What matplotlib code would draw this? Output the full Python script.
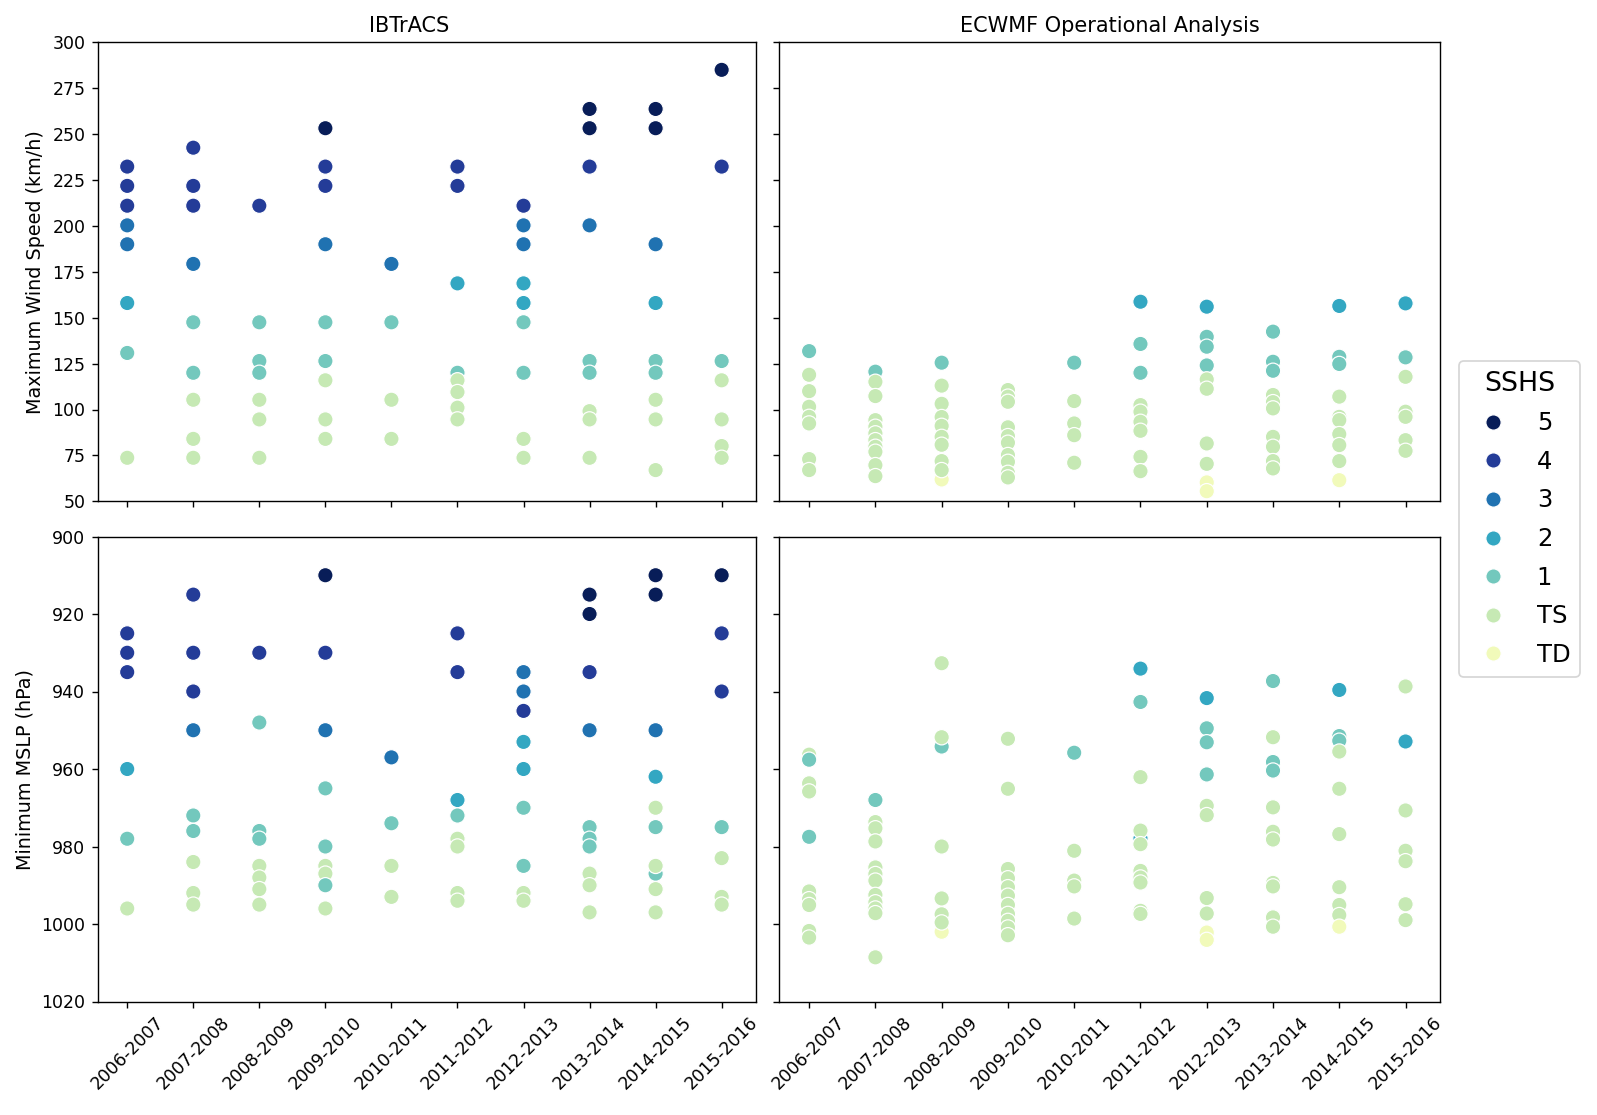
import numpy as np
import matplotlib
matplotlib.use('Agg')
import matplotlib.pyplot as plt
from matplotlib.lines import Line2D

# %% Data

seasons = ['2006-2007', '2007-2008', '2008-2009', '2009-2010', '2010-2011',
           '2011-2012', '2012-2013', '2013-2014', '2014-2015', '2015-2016']

sshs_cats = ['5', '4', '3', '2', '1', 'TS', 'TD']

# IBTrACS maximum wind speed (km/h) per season, with SSHS category
ib_wind = [
    [232.3, 221.8, 211.0, 200.3, 190.0, 158.0, 130.8, 73.7],
    [242.6, 221.8, 211.0, 179.3, 147.5, 120.0, 105.3, 84.0, 73.7],
    [211.0, 147.5, 126.4, 120.0, 105.3, 94.6, 73.7],
    [253.2, 232.3, 221.8, 190.0, 147.5, 126.4, 115.9, 94.6, 84.0],
    [179.3, 147.5, 105.3, 84.0],
    [232.3, 221.8, 168.7, 120.0, 115.9, 109.5, 101.0, 94.6],
    [211.0, 200.3, 190.0, 168.7, 158.0, 147.5, 120.0, 84.0, 73.7],
    [263.7, 253.2, 232.3, 200.3, 126.4, 120.0, 99.1, 94.6, 73.7],
    [263.7, 253.2, 190.0, 158.0, 126.4, 120.0, 105.3, 94.6, 67.0],
    [285.0, 232.3, 126.4, 115.9, 94.6, 80.1, 73.7],
]
ib_wind_cat = [
    ['4', '4', '4', '3', '3', '2', '1', 'TS'],
    ['4', '4', '4', '3', '1', '1', 'TS', 'TS', 'TS'],
    ['4', '1', '1', '1', 'TS', 'TS', 'TS'],
    ['5', '4', '4', '3', '1', '1', 'TS', 'TS', 'TS'],
    ['3', '1', 'TS', 'TS'],
    ['4', '4', '2', '1', 'TS', 'TS', 'TS', 'TS'],
    ['4', '3', '3', '2', '2', '1', '1', 'TS', 'TS'],
    ['5', '5', '4', '3', '1', '1', 'TS', 'TS', 'TS'],
    ['5', '5', '3', '2', '1', '1', 'TS', 'TS', 'TS'],
    ['5', '4', '1', 'TS', 'TS', 'TS', 'TS'],
]

# ECMWF operational analysis maximum wind speed (km/h)
ec_wind = [
    [131.8, 118.9, 110.0, 101.5, 96.0, 92.4, 73.0, 67.0],
    [120.6, 115.1, 107.3, 94.2, 90.6, 87.0, 83.3, 79.7, 77.0, 69.7, 63.7],
    [125.5, 61.9, 113.0, 103.1, 95.9, 91.1, 85.1, 80.8, 71.9, 67.0],
    [110.6, 107.0, 104.2, 90.3, 85.5, 81.9, 75.2, 71.5, 65.5, 63.0],
    [125.5, 104.6, 92.4, 86.0, 71.0],
    [158.7, 135.7, 120.0, 102.4, 98.8, 93.3, 88.4, 74.2, 66.4],
    [156.0, 139.6, 134.2, 124.0, 116.4, 111.3, 81.5, 70.4, 60.3, 55.5],
    [142.4, 126.0, 121.1, 107.9, 104.0, 100.6, 85.1, 79.7, 71.9, 67.9],
    [156.4, 128.7, 124.8, 107.0, 96.0, 94.2, 86.6, 80.6, 71.9, 61.5],
    [157.8, 128.4, 117.8, 98.8, 96.0, 83.3, 77.5],
]
ec_wind_cat = [
    ['1', 'TS', 'TS', 'TS', 'TS', 'TS', 'TS', 'TS'],
    ['1', 'TS', 'TS', 'TS', 'TS', 'TS', 'TS', 'TS', 'TS', 'TS', 'TS'],
    ['1', 'TD', 'TS', 'TS', 'TS', 'TS', 'TS', 'TS', 'TS', 'TS'],
    ['TS', 'TS', 'TS', 'TS', 'TS', 'TS', 'TS', 'TS', 'TS', 'TS'],
    ['1', 'TS', 'TS', 'TS', 'TS'],
    ['2', '1', '1', 'TS', 'TS', 'TS', 'TS', 'TS', 'TS'],
    ['2', '1', '1', '1', 'TS', 'TS', 'TS', 'TS', 'TD', 'TD'],
    ['1', '1', '1', 'TS', 'TS', 'TS', 'TS', 'TS', 'TS', 'TS'],
    ['2', '1', '1', 'TS', 'TS', 'TS', 'TS', 'TS', 'TS', 'TD'],
    ['2', '1', 'TS', 'TS', 'TS', 'TS', 'TS'],
]

# IBTrACS minimum MSLP (hPa)
ib_mslp = [
    [925, 930, 935, 960, 978, 996],
    [915, 930, 940, 950, 972, 976, 984, 992, 995],
    [930, 948, 976, 978, 985, 988, 991, 995],
    [910, 930, 950, 965, 980, 985, 987, 990, 996],
    [957, 974, 985, 993],
    [925, 935, 968, 972, 978, 980, 992, 994],
    [935, 940, 945, 953, 960, 970, 985, 992, 994],
    [915, 920, 935, 950, 975, 978, 980, 987, 990, 997],
    [910, 915, 950, 962, 975, 987, 970, 985, 991, 997],
    [910, 925, 940, 975, 983, 993, 995],
]
ib_mslp_cat = [
    ['4', '4', '4', '2', '1', 'TS'],
    ['4', '4', '4', '3', '1', '1', 'TS', 'TS', 'TS'],
    ['4', '1', '1', '1', 'TS', 'TS', 'TS', 'TS'],
    ['5', '4', '3', '1', '1', 'TS', 'TS', '1', 'TS'],
    ['3', '1', 'TS', 'TS'],
    ['4', '4', '2', '1', 'TS', 'TS', 'TS', 'TS'],
    ['3', '3', '4', '2', '2', '1', '1', 'TS', 'TS'],
    ['5', '5', '4', '3', '1', '1', '1', 'TS', 'TS', 'TS'],
    ['5', '5', '3', '2', '1', '1', 'TS', 'TS', 'TS', 'TS'],
    ['5', '4', '4', '1', 'TS', 'TS', 'TS'],
]

# ECMWF operational analysis minimum MSLP (hPa)
ec_mslp = [
    [956.3, 957.6, 963.7, 965.8, 977.5, 991.6, 993.6, 995.1, 1001.8, 1003.5],
    [968.0, 973.7, 975.3, 978.7, 985.4, 987.1, 988.8, 992.5, 994.4, 996.0, 997.2, 1008.6],
    [954.2, 1002.0, 932.7, 951.8, 980.0, 993.4, 997.5, 999.6],
    [952.2, 965.1, 985.8, 988.2, 990.5, 992.7, 995.1, 997.4, 999.2, 1000.9, 1002.9],
    [955.8, 981.1, 988.8, 990.3, 998.6],
    [934.1, 942.7, 977.9, 962.1, 975.9, 979.4, 986.3, 988.0, 989.3, 996.6, 997.4],
    [941.7, 949.5, 953.1, 961.4, 969.5, 971.9, 993.3, 997.3, 1002.2, 1004.1],
    [937.3, 958.2, 960.4, 951.8, 969.9, 976.2, 978.2, 989.4, 990.3, 998.3, 1000.7],
    [939.6, 951.5, 952.7, 955.5, 965.1, 976.8, 990.5, 995.1, 997.7, 1000.7],
    [938.7, 952.9, 970.7, 981.1, 983.8, 994.9, 999.0],
]
ec_mslp_cat = [
    ['TS', '1', 'TS', 'TS', '1', 'TS', 'TS', 'TS', 'TS', 'TS'],
    ['1', 'TS', 'TS', 'TS', 'TS', 'TS', 'TS', 'TS', 'TS', 'TS', 'TS', 'TS'],
    ['1', 'TD', 'TS', 'TS', 'TS', 'TS', 'TS', 'TS'],
    ['TS', 'TS', 'TS', 'TS', 'TS', 'TS', 'TS', 'TS', 'TS', 'TS', 'TS'],
    ['1', 'TS', 'TS', 'TS', 'TS'],
    ['2', '1', '2', 'TS', 'TS', 'TS', 'TS', 'TS', 'TS', 'TS', 'TS'],
    ['2', '1', '1', '1', 'TS', 'TS', 'TS', 'TS', 'TD', 'TD'],
    ['1', '1', '1', 'TS', 'TS', 'TS', 'TS', 'TS', 'TS', 'TS', 'TS'],
    ['2', '1', '1', 'TS', 'TS', 'TS', 'TS', 'TS', 'TS', 'TD'],
    ['TS', '2', 'TS', 'TS', 'TS', 'TS', 'TS'],
]

# %% Colours: YlGnBu sampled from light (TD) to dark (5)

cmap = plt.get_cmap('YlGnBu')
cat_colors = dict(zip(sshs_cats, cmap(np.linspace(1.0, 0.1, len(sshs_cats)))))

# %% Figure

dpi = 125
fig = plt.figure(figsize=(1597 / dpi, 1115 / dpi), dpi=dpi)

W, H = 1597, 1115
def px_axes(x0, y0, x1, y1):
    return fig.add_axes([x0 / W, 1 - y1 / H, (x1 - x0) / W, (y1 - y0) / H])

ax_tl = px_axes(97.5, 42.3, 756, 501.3)
ax_tr = px_axes(779.3, 42.3, 1440, 501.3)
ax_bl = px_axes(97.5, 536.5, 756, 1001.5)
ax_br = px_axes(779.3, 536.5, 1440, 1001.5)

panels = [
    (ax_tl, ib_wind, ib_wind_cat),
    (ax_tr, ec_wind, ec_wind_cat),
    (ax_bl, ib_mslp, ib_mslp_cat),
    (ax_br, ec_mslp, ec_mslp_cat),
]

for ax, values, cats in panels:
    xs, ys, cs = [], [], []
    for i, (vals, cc) in enumerate(zip(values, cats)):
        xs += [i] * len(vals)
        ys += vals
        cs += [cat_colors[c] for c in cc]
    ax.scatter(xs, ys, c=cs, s=78, edgecolors='white', linewidths=0.7, zorder=3)
    ax.set_xticks(range(len(seasons)))
    ax.set_xlim(-0.45, 9.52)

for ax in (ax_tl, ax_tr):
    ax.set_ylim(50, 300)
    ax.set_yticks(range(50, 301, 25))
    ax.tick_params(labelbottom=False)

for ax in (ax_bl, ax_br):
    ax.set_ylim(1020, 900)
    ax.set_yticks(range(900, 1021, 20))
    ax.set_xticklabels(seasons, rotation=45)

for ax in (ax_tr, ax_br):
    ax.tick_params(labelleft=False)

ax_tl.set_title('IBTrACS', fontsize=12, x=0.473)
ax_tr.set_title('ECWMF Operational Analysis', fontsize=12)
ax_tl.set_ylabel('Maximum Wind Speed (km/h)', fontsize=11)
ax_bl.set_ylabel('Minimum MSLP (hPa)', fontsize=11)

handles = [Line2D([], [], marker='o', linestyle='', markersize=8.8,
                  markerfacecolor=cat_colors[c], markeredgecolor='white',
                  markeredgewidth=0.7) for c in sshs_cats]
fig.legend(handles, sshs_cats, title='SSHS', loc='upper left',
           bbox_to_anchor=(1459 / W, 1 - 361 / H), borderaxespad=0,
           fontsize=14, title_fontsize=15.5, labelspacing=0.6)

fig.savefig('out.png', dpi=dpi)
